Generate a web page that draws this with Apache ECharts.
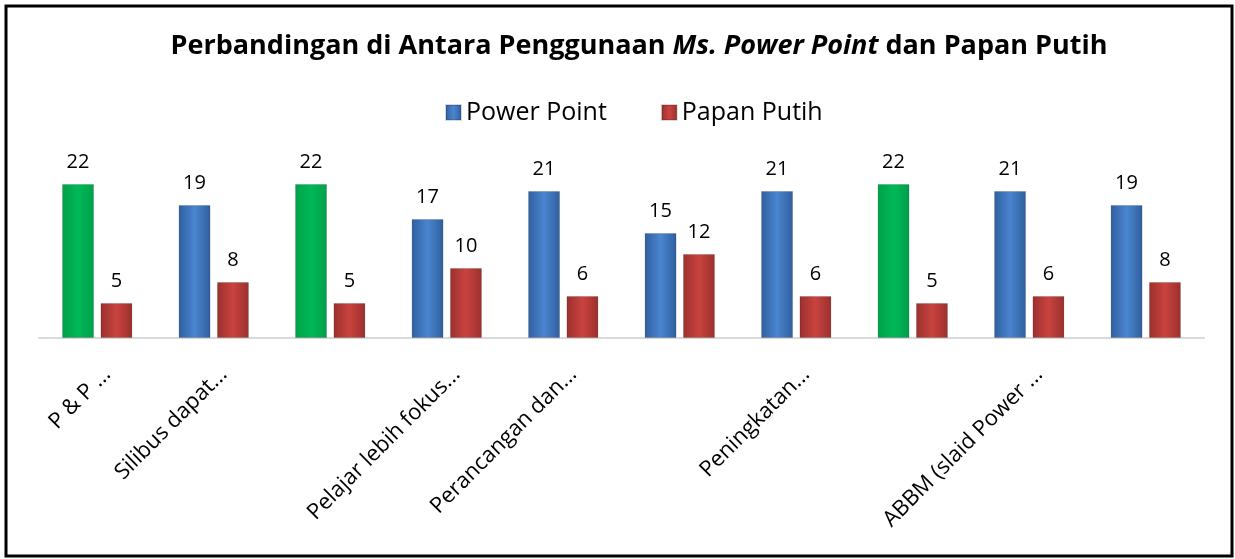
<!DOCTYPE html>
<html>
<head>
<meta charset="utf-8">
<script src="https://cdn.jsdelivr.net/npm/echarts@6/dist/echarts.min.js"></script>
<style>
  html, body { margin: 0; padding: 0; background: #fff; }
  #chart { width: 1235px; height: 559px; }
</style>
</head>
<body>
<div id="chart"></div>
<script>
// kategori (label kosong = tidak ditunjukkan dalam rajah asal)
const categories = ['P & P ...', 'Silibus dapat...', '', 'Pelajar lebih fokus...', 'Perancangan dan...', '', 'Peningkatan...', '', 'ABBM (slaid Power ...', ''];
const powerPoint = [22, 19, 22, 17, 21, 15, 21, 22, 21, 19];
const papanPutih = [5, 8, 5, 10, 6, 12, 6, 5, 6, 8];
const seriesNames = ['Power Point', 'Papan Putih'];

const FONT = '"Open Sans", "Noto Sans", sans-serif';

// gradien mendatar untuk kesan 3D bar
function barGrad(edge, mid) {
    return new echarts.graphic.LinearGradient(0, 0, 1, 0, [
        { offset: 0, color: edge },
        { offset: 0.5, color: mid },
        { offset: 1, color: edge }
    ]);
}
const blueFill = barGrad('#2f5f9e', '#4a85cf');
const redFill = barGrad('#9a302d', '#c9433f');
const greenFill = barGrad('#00a04a', '#00b857');

const maxVal = Math.max(...powerPoint);

const chart = echarts.init(document.getElementById('chart'));

const option = {
    backgroundColor: '#fff',
    animation: false,
    title: {
        text: '{b|Perbandingan di Antara Penggunaan }{i|Ms. Power Point}{b| dan Papan Putih}',
        left: 634,
        textAlign: 'center',
        top: 28,
        textStyle: {
            rich: {
                b: { fontFamily: FONT, fontSize: 27, fontWeight: 'bold', color: '#000' },
                i: { fontFamily: FONT, fontSize: 27, fontWeight: 'bold', fontStyle: 'italic', color: '#000' }
            }
        }
    },
    legend: {
        top: 95,
        left: 440,
        itemWidth: 15,
        itemHeight: 15,
        itemGap: 54,
        textStyle: { fontFamily: FONT, fontSize: 25, color: '#000' },
        data: [
            { name: seriesNames[0], icon: 'rect', itemStyle: { color: blueFill } },
            { name: seriesNames[1], icon: 'rect', itemStyle: { color: redFill } }
        ]
    },
    grid: {
        left: 39,
        right: 31,
        top: 163,
        bottom: 221,
        containLabel: false
    },
    xAxis: {
        type: 'category',
        data: categories,
        axisLine: { show: true, lineStyle: { color: '#d9d9d9', width: 2 } },
        axisTick: { show: false },
        axisLabel: {
            interval: 0,
            rotate: 45,
            margin: 43,
            padding: [0, -14, 0, 0],
            color: '#000',
            fontFamily: FONT,
            fontSize: 22
        }
    },
    yAxis: {
        type: 'value',
        min: 0,
        max: 25,
        show: false,
        splitLine: { show: false }
    },
    series: [
        {
            name: seriesNames[0],
            type: 'bar',
            barWidth: 32,
            barGap: '20%',
            data: powerPoint.map(v => ({
                value: v,
                itemStyle: { color: v === maxVal ? greenFill : blueFill }
            })),
            itemStyle: { borderColor: 'rgba(0,0,0,0.15)', borderWidth: 1 },
            label: {
                show: true,
                position: 'top',
                distance: 12,
                color: '#000',
                fontFamily: FONT,
                fontSize: 20
            }
        },
        {
            name: seriesNames[1],
            type: 'bar',
            barWidth: 32,
            data: papanPutih,
            itemStyle: { color: redFill, borderColor: 'rgba(0,0,0,0.15)', borderWidth: 1 },
            label: {
                show: true,
                position: 'top',
                distance: 12,
                color: '#000',
                fontFamily: FONT,
                fontSize: 20
            }
        }
    ],
    graphic: [
        {
            type: 'rect',
            shape: { x: 6, y: 6, width: 1226, height: 550 },
            style: { fill: 'none', stroke: '#000', lineWidth: 3 },
            silent: true
        }
    ]
};

chart.setOption(option);
</script>
</body>
</html>
